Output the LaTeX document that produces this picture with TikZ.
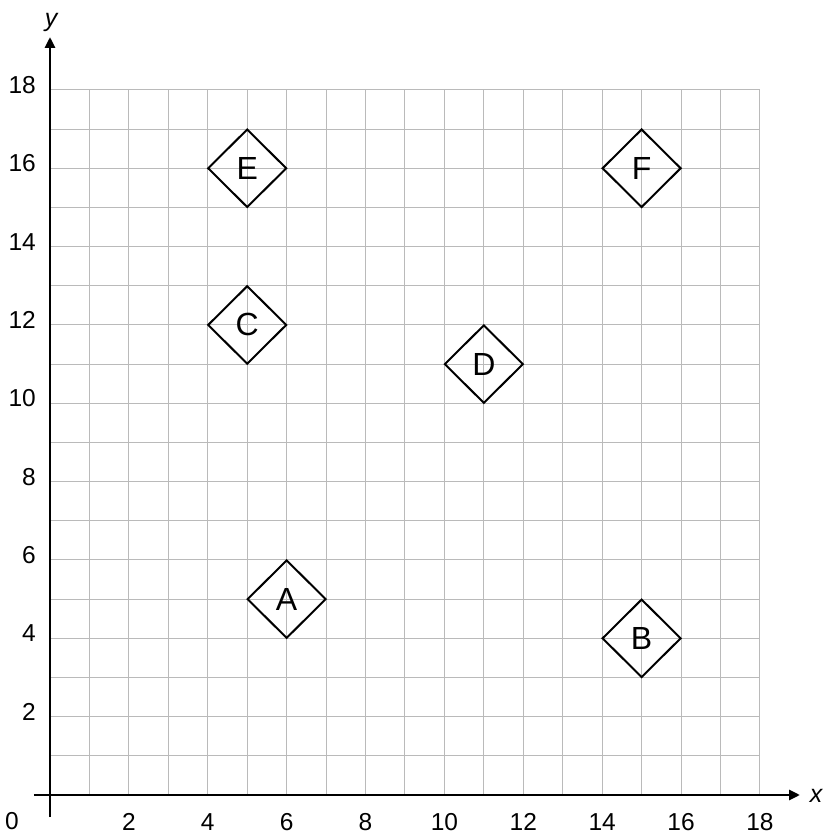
\documentclass[tikz,border=0pt]{standalone}
\usepackage{fontspec}
\setmainfont{Liberation Sans}
\usetikzlibrary{shapes.geometric,arrows.meta}
\begin{document}
\begin{tikzpicture}[x=39.44pt,y=39.17pt,
  gridline/.style={draw=black!27,line width=1pt},
  axis/.style={line width=2.8pt,-{Stealth[length=11pt,width=10pt,inset=0pt]}},
  ticklab/.style={font=\fontsize{24.5}{27}\selectfont,inner sep=0pt},
  axlab/.style={font=\fontsize{25}{27}\selectfont\itshape,inner sep=0pt},
  marker/.style={diamond,draw=black,line width=2pt,inner sep=0pt,minimum width=78.88pt,minimum height=78.34pt,font=\fontsize{32}{35}\selectfont}]
\useasboundingbox (-50pt,-39pt) rectangle (774pt,795pt);
\draw[gridline,xstep=1,ystep=1] (0,0) grid (18,18);
% axes
\coordinate (xs) at (-16pt,0);
\coordinate (xe) at (750pt,0);
\coordinate (ys) at (0,-22pt);
\coordinate (ye) at (0,758pt);
\draw[axis] (xs) -- (xe);
\draw[axis] (ys) -- (ye);
\node[axlab] (xl) at (766pt,-1pt) {x};
\node[axlab] (yl) at (1pt,772pt) {y};
\node[ticklab] (zero) at (-38pt,-26pt) {0};
\foreach \v in {2,4,...,18} {
  \node[ticklab] (xt\v) at ([yshift=-27pt]\v,0) {\v};
  \node[ticklab,anchor=east] (yt\v) at ([xshift=-14pt,yshift=5pt]0,\v) {\v};
}
\node[marker] (A) at (6,5) {A};
\node[marker] (B) at (15,4) {B};
\node[marker] (C) at (5,12) {C};
\node[marker] (D) at (11,11) {D};
\node[marker] (E) at (5,16) {E};
\node[marker] (F) at (15,16) {F};
\end{tikzpicture}
\end{document}
